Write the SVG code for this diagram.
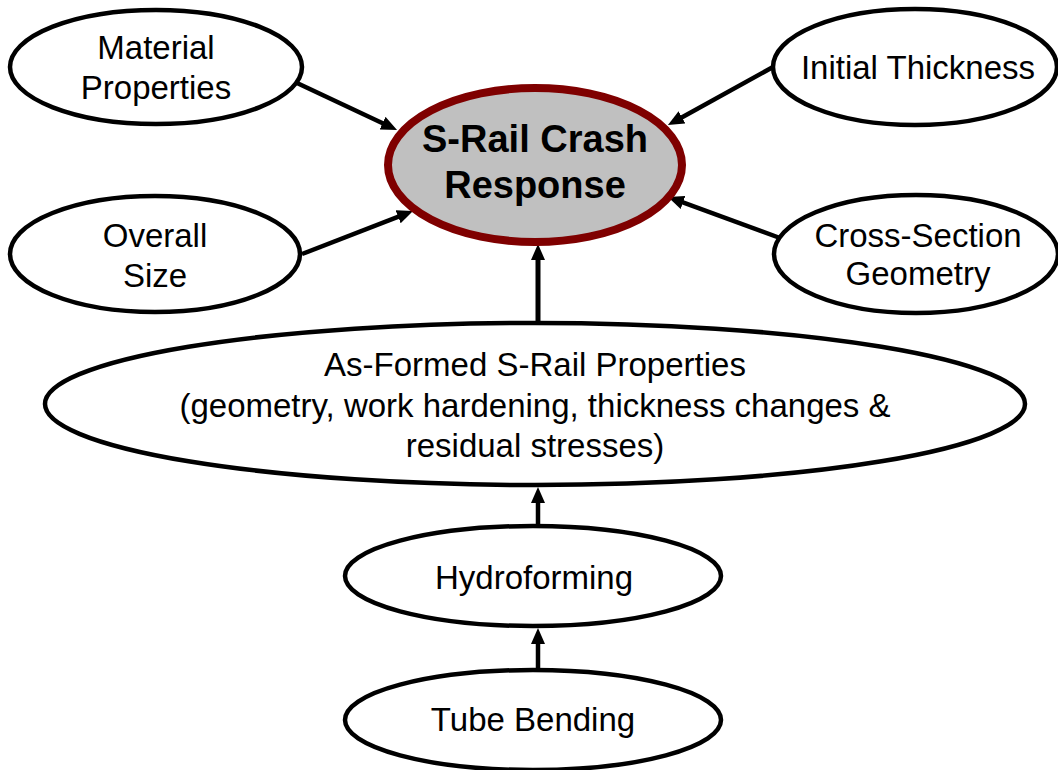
<svg xmlns="http://www.w3.org/2000/svg" width="1058" height="770" viewBox="0 0 1058 770">
  <defs>
    <marker id="arrow" markerUnits="userSpaceOnUse" markerWidth="16" markerHeight="14" viewBox="0 0 16 14" refX="6" refY="7" orient="auto">
      <path d="M0,0 L16,7 L0,14 z" fill="#000"/>
    </marker>
  </defs>
  <style>
    .node { fill: #ffffff; stroke: #000000; stroke-width: 4.5; }
    .main { fill: #c0c0c0; stroke: #7f0000; stroke-width: 8; }
    .lbl { font-family: "Liberation Sans", Arial, sans-serif; font-size: 33px; fill: #000; text-anchor: middle; }
    .bold { font-family: "Liberation Sans", Arial, sans-serif; font-size: 38px; font-weight: bold; fill: #000; text-anchor: middle; }
    .conn { stroke: #000; stroke-width: 4.5; fill: none; marker-end: url(#arrow); }
  </style>
  <rect width="1058" height="770" fill="#ffffff"/>

  <g id="connectors">
    <line class="conn" x1="297" y1="83" x2="388" y2="125.7"/>
    <line class="conn" x1="302" y1="254" x2="403.7" y2="214.6"/>
    <line class="conn" x1="773" y1="67" x2="676.7" y2="120.2"/>
    <line class="conn" x1="780" y1="238" x2="677.4" y2="200.4"/>
    <line class="conn" x1="538" y1="322" x2="538" y2="254" style="stroke-width:5"/>
    <line class="conn" x1="538" y1="525" x2="538" y2="497"/>
    <line class="conn" x1="538" y1="668" x2="538" y2="638"/>
  </g>

  <g id="material-properties">
    <ellipse class="node" cx="156" cy="67" rx="146" ry="57"/>
    <text class="lbl" x="156" y="59">Material</text>
    <text class="lbl" x="156" y="99">Properties</text>
  </g>

  <g id="overall-size">
    <ellipse class="node" cx="155" cy="254" rx="145" ry="58"/>
    <text class="lbl" x="155" y="247">Overall</text>
    <text class="lbl" x="155" y="287">Size</text>
  </g>

  <g id="initial-thickness">
    <ellipse class="node" cx="915" cy="67" rx="142" ry="58"/>
    <text class="lbl" x="918" y="79">Initial Thickness</text>
  </g>

  <g id="cross-section-geometry">
    <ellipse class="node" cx="916" cy="254" rx="142" ry="59"/>
    <text class="lbl" x="918" y="247">Cross-Section</text>
    <text class="lbl" x="918" y="285">Geometry</text>
  </g>

  <g id="s-rail-crash-response">
    <ellipse class="main" cx="535" cy="165" rx="147" ry="77"/>
    <text class="bold" x="535" y="152">S-Rail Crash</text>
    <text class="bold" x="535" y="198">Response</text>
  </g>

  <g id="as-formed-properties">
    <ellipse class="node" cx="535" cy="404" rx="490" ry="81"/>
    <text class="lbl" x="535" y="376">As-Formed S-Rail Properties</text>
    <text class="lbl" x="535" y="417">(geometry, work hardening, thickness changes &amp;</text>
    <text class="lbl" x="535" y="457">residual stresses)</text>
  </g>

  <g id="hydroforming">
    <ellipse class="node" cx="533" cy="576" rx="188" ry="50"/>
    <text class="lbl" x="534" y="589">Hydroforming</text>
  </g>

  <g id="tube-bending">
    <ellipse class="node" cx="533" cy="720" rx="188" ry="50"/>
    <text class="lbl" x="533" y="731">Tube Bending</text>
  </g>
</svg>
